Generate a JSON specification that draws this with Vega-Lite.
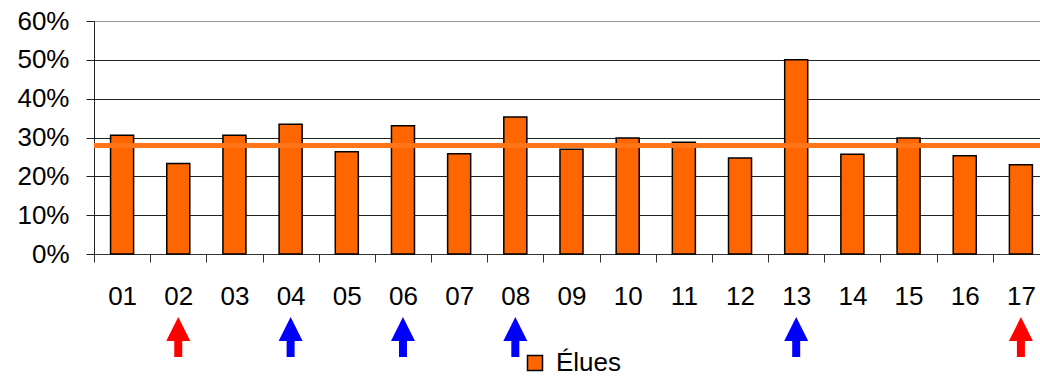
{
  "$schema": "https://vega.github.io/schema/vega-lite/v6.json",
  "autosize": "none",
  "padding": {"left": 94, "top": 21, "right": 0, "bottom": 123},
  "width": 955,
  "height": 233,
  "background": "white",
  "config": {"font": "Liberation Sans", "view": {"stroke": null}},
  "data": {"values": [
    {"num": "01", "v": 0.306, "marker": null},
    {"num": "02", "v": 0.233, "marker": "min"},
    {"num": "03", "v": 0.306, "marker": null},
    {"num": "04", "v": 0.334, "marker": "max"},
    {"num": "05", "v": 0.263, "marker": null},
    {"num": "06", "v": 0.330, "marker": "max"},
    {"num": "07", "v": 0.258, "marker": null},
    {"num": "08", "v": 0.353, "marker": "max"},
    {"num": "09", "v": 0.270, "marker": null},
    {"num": "10", "v": 0.299, "marker": null},
    {"num": "11", "v": 0.288, "marker": null},
    {"num": "12", "v": 0.247, "marker": null},
    {"num": "13", "v": 0.500, "marker": "max"},
    {"num": "14", "v": 0.257, "marker": null},
    {"num": "15", "v": 0.299, "marker": null},
    {"num": "16", "v": 0.253, "marker": null},
    {"num": "17", "v": 0.230, "marker": "min"}
  ]},
  "layer": [
    {
      "mark": {"type": "bar", "width": {"band": 0.41}, "stroke": "black", "strokeWidth": 1.5},
      "encoding": {
        "x": {
          "field": "num", "type": "ordinal", "sort": null,
          "scale": {"paddingInner": 0, "paddingOuter": 0},
          "axis": {
            "title": null, "labelAngle": 0, "tickBand": "extent", "tickSize": 8,
            "tickColor": "#333", "domainColor": "#333", "labelFontSize": 26,
            "labelColor": "black", "labelPadding": 21, "grid": false, "labelOverlap": false
          }
        },
        "y": {
          "field": "v", "type": "quantitative",
          "scale": {"domain": [0, 0.6]},
          "axis": {
            "title": null, "format": ".0%", "values": [0, 0.1, 0.2, 0.3, 0.4, 0.5, 0.6],
            "tickCount": 7, "labelOverlap": false,
            "tickSize": 8, "tickColor": "#222", "domainColor": "#222",
            "labelFontSize": 26, "labelColor": "black", "labelPadding": 17,
            "grid": true,
            "gridColor": {"condition": {"test": "datum.value >= 0.6", "value": "#999999"}, "value": "#222222"},
            "gridOpacity": 1
          }
        },
        "color": {
          "datum": "Élues",
          "scale": {"range": ["#FF6600"]},
          "legend": {
            "orient": "none", "legendX": 428, "legendY": 329, "padding": 0,
            "title": null, "symbolType": "square", "symbolSize": 225,
            "symbolStrokeColor": "black", "symbolStrokeWidth": 1.5, "symbolOpacity": 1,
            "labelFontSize": 26, "labelColor": "black", "labelOffset": 8
          }
        }
      }
    },
    {
      "mark": {"type": "rule", "color": "#FF7518", "strokeWidth": 4},
      "encoding": {"y": {"datum": 0.28}}
    },
    {
      "transform": [{"filter": "datum.marker != null"}],
      "mark": {
        "type": "point",
        "shape": "M0,-1L0.6,0.2L0.2,0.2L0.2,1L-0.2,1L-0.2,0.2L-0.6,0.2Z",
        "filled": true, "size": 1600, "opacity": 1
      },
      "encoding": {
        "x": {"field": "num", "type": "ordinal", "sort": null},
        "y": {"datum": -0.214},
        "color": {
          "field": "marker", "type": "nominal",
          "scale": {"domain": ["min", "max"], "range": ["#FF0000", "#0000FF"]},
          "legend": null
        }
      }
    }
  ],
  "resolve": {"scale": {"color": "independent"}}
}
